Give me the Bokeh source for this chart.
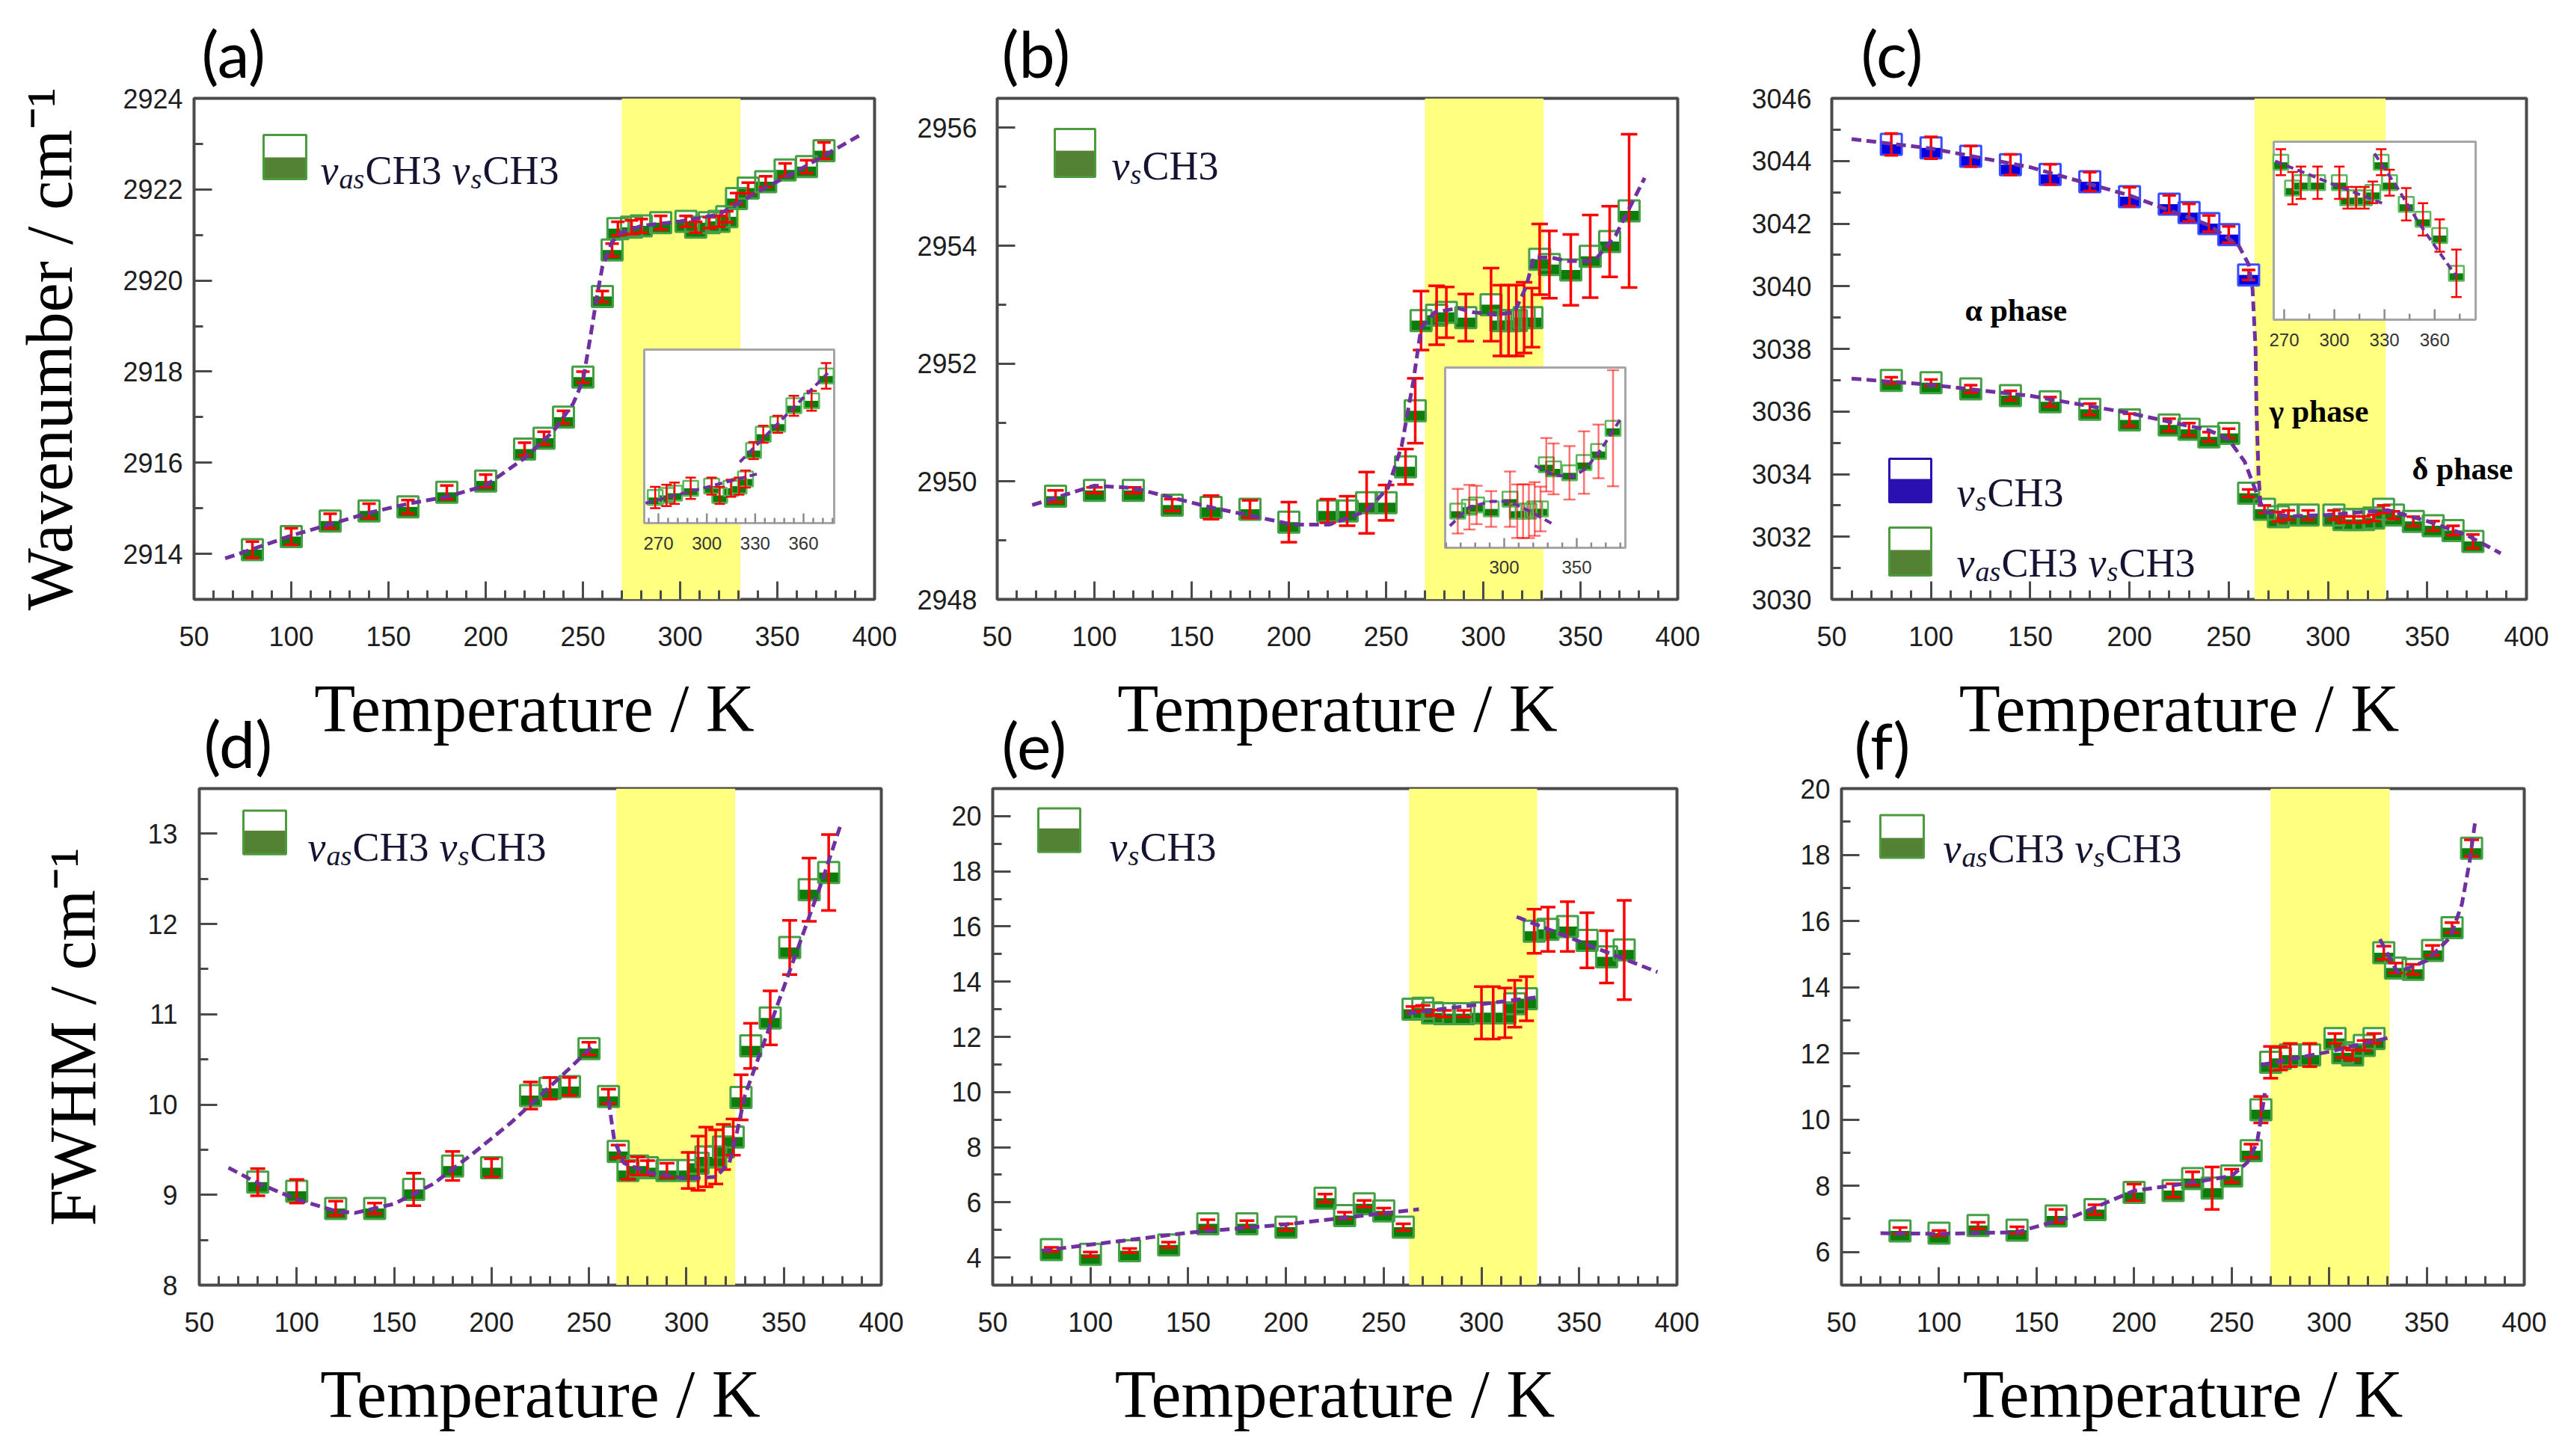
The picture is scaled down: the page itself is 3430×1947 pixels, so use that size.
from bokeh.plotting import figure
from bokeh.layouts import column, row
from bokeh.models import ColumnDataSource, Range1d, FixedTicker, BoxAnnotation
from bokeh.core.properties import value
from bokeh.embed import file_html
from bokeh.resources import INLINE

# ------------------------------------------------------------------ data
# (a) Wavenumber, nu_as CH3 nu_s CH3
Ta = [80, 100, 120, 140, 160, 180, 200, 220, 230, 240, 250, 260, 265, 268, 275, 280, 290, 303, 308, 315, 320, 324, 329, 335, 344, 354, 365, 374]
Va = [2914.09, 2914.38, 2914.72, 2914.94, 2915.03, 2915.35, 2915.6, 2916.3, 2916.54, 2917.0, 2917.88, 2919.65, 2920.67, 2921.14, 2921.17, 2921.2, 2921.27, 2921.3, 2921.17, 2921.27, 2921.3, 2921.4, 2921.8, 2922.03, 2922.17, 2922.43, 2922.5, 2922.85]
Ea = [0.18, 0.18, 0.16, 0.16, 0.15, 0.15, 0.14, 0.14, 0.14, 0.14, 0.12, 0.12, 0.14, 0.15, 0.15, 0.15, 0.15, 0.12, 0.12, 0.12, 0.12, 0.12, 0.12, 0.12, 0.12, 0.14, 0.14, 0.18]
FitA_T = [66, 80, 100, 120, 140, 160, 180, 200, 220, 235, 245, 250, 254, 257, 260, 265, 270, 280, 300, 320, 330, 340, 360, 392]
FitA_V = [2913.9, 2914.1, 2914.4, 2914.65, 2914.9, 2915.1, 2915.25, 2915.5, 2916.1, 2916.7, 2917.3, 2917.8, 2918.8, 2919.6, 2920.3, 2920.85, 2921.05, 2921.2, 2921.3, 2921.45, 2921.7, 2921.95, 2922.4, 2923.18]
InsA1_T = [262, 331]
InsA1_V = [2921.06, 2921.47]
InsA2_T = [320.5, 375]
InsA2_V = [2921.64, 2922.89]

# (b) Wavenumber, nu_s CH3
Tb = [80, 100, 120, 140, 160, 180, 200, 220, 230, 240, 250, 260, 265, 268, 276, 281, 291, 304, 309, 313, 317, 321, 325, 329, 334, 345, 355, 365, 375]
Vb = [2949.75, 2949.85, 2949.85, 2949.6, 2949.56, 2949.53, 2949.31, 2949.5, 2949.5, 2949.64, 2949.64, 2950.25, 2951.2, 2952.73, 2952.82, 2952.87, 2952.78, 2953.0, 2952.73, 2952.73, 2952.73, 2952.78, 2952.78, 2953.77, 2953.68, 2953.59, 2953.82, 2954.07, 2954.59]
Eb = [0.1, 0.05, 0.05, 0.1, 0.2, 0.15, 0.34, 0.2, 0.25, 0.52, 0.3, 0.3, 0.55, 0.5, 0.5, 0.43, 0.4, 0.62, 0.6, 0.6, 0.6, 0.6, 0.5, 0.6, 0.57, 0.6, 0.7, 0.6, 1.3]
FitB_T = [68, 100, 120, 160, 202, 221, 240, 251, 258, 264, 268, 275, 287, 295, 306, 316, 322, 326, 335, 343, 357, 368, 383]
FitB_V = [2949.6, 2949.93, 2949.89, 2949.56, 2949.27, 2949.27, 2949.5, 2949.89, 2950.6, 2951.7, 2952.6, 2952.87, 2952.94, 2952.87, 2952.83, 2952.87, 2953.3, 2953.8, 2953.8, 2953.74, 2953.74, 2954.17, 2955.15]
InsB1_T = [262.6, 275.8, 291.2, 303.6, 317.5, 332.5]
InsB1_V = [2952.4, 2952.82, 2952.95, 2952.95, 2952.73, 2952.46]
InsB2_T = [321, 335, 347.4, 356, 366.5, 381.4]
InsB2_V = [2953.75, 2953.54, 2953.5, 2953.68, 2954.1, 2954.86]

# (c) Wavenumber, nu_s CH3 (blue) and nu_as CH3 nu_s CH3 (green)
Tc_blue = [80, 100, 120, 140, 160, 180, 200, 220, 230, 240, 250, 260]
Vc_blue = [3044.53, 3044.42, 3044.15, 3043.88, 3043.57, 3043.34, 3042.86, 3042.62, 3042.35, 3042.0, 3041.65, 3040.36]
Ec_blue = [0.35, 0.35, 0.33, 0.33, 0.32, 0.3, 0.3, 0.28, 0.28, 0.26, 0.26, 0.16]
Tc_green = [80, 100, 120, 140, 160, 180, 200, 220, 230, 240, 250, 260, 268, 275, 280, 290, 303, 308, 313, 318, 323, 328, 333, 343, 353, 363, 373]
Vc_green = [3036.99, 3036.92, 3036.72, 3036.51, 3036.31, 3036.07, 3035.73, 3035.57, 3035.43, 3035.19, 3035.3, 3033.39, 3032.88, 3032.64, 3032.69, 3032.69, 3032.69, 3032.55, 3032.55, 3032.55, 3032.6, 3032.88, 3032.69, 3032.49, 3032.35, 3032.2, 3031.85]
Ec_green = [0.1, 0.1, 0.12, 0.15, 0.15, 0.18, 0.2, 0.2, 0.2, 0.15, 0.15, 0.12, 0.12, 0.15, 0.15, 0.15, 0.15, 0.1, 0.1, 0.1, 0.1, 0.12, 0.12, 0.15, 0.15, 0.15, 0.22]
FitC_blue_T = [60, 100, 150, 200, 240, 255, 260, 262, 263.5, 264, 265, 266]
FitC_blue_V = [3044.7, 3044.4, 3043.8, 3042.9, 3041.95, 3041.3, 3040.7, 3039.9, 3038.0, 3036.0, 3034.0, 3033.0]
FitC_green_T = [60, 100, 150, 200, 240, 250, 258, 264, 268, 280, 300, 330, 350, 370, 387]
FitC_green_V = [3037.05, 3036.85, 3036.5, 3035.95, 3035.4, 3035.1, 3034.4, 3033.4, 3032.8, 3032.65, 3032.7, 3032.85, 3032.5, 3032.05, 3031.47]
InsC1_T = [264.6, 297, 328.5]
InsC1_V = [3032.89, 3032.69, 3032.5]
InsC2_T = [324, 337.4, 350.8, 373]
InsC2_V = [3032.96, 3032.65, 3032.31, 3031.82]

# (d) FWHM, nu_as CH3 nu_s CH3
Td = [80, 100, 120, 140, 160, 180, 200, 220, 230, 240, 250, 260, 265, 270, 275, 280, 290, 301, 306, 310, 315, 319, 324, 328, 333, 343, 353, 363, 373]
Vd = [9.14, 9.04, 8.85, 8.85, 9.06, 9.32, 9.3, 10.1, 10.18, 10.2, 10.62, 10.09, 9.48, 9.27, 9.32, 9.3, 9.27, 9.27, 9.35, 9.42, 9.42, 9.53, 9.64, 10.08, 10.65, 10.96, 11.74, 12.38, 12.57]
Ed = [0.15, 0.13, 0.08, 0.06, 0.18, 0.16, 0.1, 0.15, 0.12, 0.1, 0.07, 0.08, 0.07, 0.1, 0.1, 0.08, 0.08, 0.2, 0.3, 0.33, 0.3, 0.25, 0.2, 0.25, 0.25, 0.3, 0.3, 0.35, 0.42]
FitD1_T = [65, 80, 100, 120, 130, 150, 170, 190, 210, 225, 240, 252]
FitD1_V = [9.3, 9.13, 8.95, 8.82, 8.8, 8.9, 9.12, 9.45, 9.8, 10.1, 10.4, 10.65]
FitD2_T = [260, 263, 268, 280, 300, 315, 322, 326, 330, 340, 355, 370, 379]
FitD2_V = [10.05, 9.6, 9.35, 9.25, 9.18, 9.2, 9.35, 9.7, 10.1, 10.7, 11.6, 12.5, 13.09]

# (e) FWHM, nu_s CH3
Te = [80, 100, 120, 140, 160, 180, 200, 220, 230, 240, 250, 260, 265, 270, 275, 281, 291, 300, 306, 312, 317, 323, 327, 334, 344, 354, 364, 373]
Ve = [4.29, 4.12, 4.25, 4.46, 5.22, 5.22, 5.1, 6.15, 5.52, 5.95, 5.69, 5.1, 13.0, 13.04, 12.87, 12.84, 12.84, 12.87, 12.87, 12.87, 13.2, 13.38, 15.83, 15.9, 16.0, 15.5, 14.9, 15.15]
Ee = [0.08, 0.08, 0.08, 0.1, 0.15, 0.12, 0.12, 0.15, 0.12, 0.12, 0.1, 0.12, 0.1, 0.1, 0.1, 0.12, 0.12, 0.95, 0.95, 0.9, 0.85, 0.8, 0.8, 0.8, 0.9, 1.0, 0.95, 1.8]
FitE1_T = [75, 150, 200, 268]
FitE1_V = [4.25, 4.9, 5.2, 5.75]
FitE2_T = [262, 330]
FitE2_V = [12.85, 13.45]
FitE3_T = [318, 390]
FitE3_V = [16.35, 14.35]

# (f) FWHM, nu_as CH3 nu_s CH3
Tf = [80, 100, 120, 140, 160, 180, 200, 220, 230, 240, 250, 260, 265, 270, 275, 280, 290, 303, 307, 312, 318, 323, 328, 334, 343, 353, 363, 373]
Vf = [6.64, 6.57, 6.8, 6.66, 7.09, 7.28, 7.8, 7.86, 8.22, 7.93, 8.3, 9.06, 10.3, 11.73, 11.85, 11.95, 11.95, 12.45, 12.02, 11.95, 12.24, 12.45, 15.04, 14.58, 14.54, 15.11, 15.8, 18.2]
Ef = [0.1, 0.08, 0.1, 0.1, 0.2, 0.15, 0.25, 0.2, 0.2, 0.64, 0.2, 0.2, 0.4, 0.48, 0.35, 0.35, 0.35, 0.15, 0.15, 0.15, 0.15, 0.15, 0.2, 0.15, 0.15, 0.15, 0.15, 0.25]
FitF1_T = [70, 100, 140, 170, 200, 230, 250, 258, 263, 265.5, 267]
FitF1_V = [6.57, 6.55, 6.6, 7.1, 7.85, 8.1, 8.3, 8.7, 9.3, 10.2, 10.8]
FitF2_T = [265, 300, 331]
FitF2_V = [11.65, 12.05, 12.48]
FitF3_T = [326, 335, 350, 362, 368, 372, 375]
FitF3_V = [15.45, 14.45, 14.8, 15.5, 16.5, 17.8, 19.07]

# phase bands (K)
BAND_A = [270, 331]
BAND_B = [270, 331]
BAND_C = [263, 329]
BAND_D = [264, 325]
BAND_E = [263, 328.5]
BAND_F = [270, 331]

XTICKS = [50, 100, 150, 200, 250, 300, 350, 400]
XMINOR = [t for t in range(50, 401, 10) if t % 50]

YT_A = [2914, 2916, 2918, 2920, 2922, 2924]
YT_B = [2948, 2950, 2952, 2954, 2956]
YT_C = [3030, 3032, 3034, 3036, 3038, 3040, 3042, 3044, 3046]
YT_D = [8, 9, 10, 11, 12, 13]
YT_E = [4, 6, 8, 10, 12, 14, 16, 18, 20]
YT_F = [6, 8, 10, 12, 14, 16, 18, 20]

LEG_TWO = ["\u03bd", "as", "CH3", "\u03bd", "s", "CH3"]
LEG_ONE = ["\u03bd", "s", "CH3"]

# ------------------------------------------------------------------ style
GREEN_EDGE = "#45a045"
GREEN_FILL = "#0b7d0b"
LEG_GREEN_EDGE = "#4e9a3e"
LEG_GREEN_FILL = "#548235"
BLUE_EDGE = "#3a4cff"
BLUE_FILL = "#0000e0"
LEG_BLUE = "#2a10b0"
RED = "#ff0000"
PURPLE = "#7030a0"
YELLOW = "#ffff80"
FRAME = "#4a4a4a"
TXT = "#141432"

OVERLAP = 100  # second row is pulled up under the first row's transparent bottom border

# figure geometry: page coordinates of each frame (frames in a row share top/bottom)
SA = dict(PX=8, PY=8, W=1215, H=1030, FL=267, FR=1177, FT=139, FB=809, x0=50, x1=400, y0=2913, y1=2924)
SB = dict(PX=1223, PY=8, W=1085, H=1030, FL=1341, FR=2251, FT=139, FB=809, x0=50, x1=400, y0=2948, y1=2956.5)
SC = dict(PX=2308, PY=8, W=1114, H=1030, FL=2457, FR=3386, FT=139, FB=809, x0=50, x1=400, y0=3030, y1=3046)
SD = dict(PX=8, PY=1038 - OVERLAP, W=1210, H=1009, FL=274, FR=1186, FT=1052, FB=1726, x0=50, x1=400, y0=8, y1=13.5)
SE = dict(PX=1218, PY=1038 - OVERLAP, W=1090, H=1009, FL=1335, FR=2250, FT=1052, FB=1726, x0=50, x1=400, y0=3, y1=21)
SF = dict(PX=2308, PY=1038 - OVERLAP, W=1114, H=1009, FL=2470, FR=3383, FT=1052, FB=1726, x0=50, x1=400, y0=5, y1=20)


def px2x(s, px):
    return s["x0"] + (px - s["FL"]) * (s["x1"] - s["x0"]) / (s["FR"] - s["FL"])


def py2y(s, py):
    return s["y1"] - (py - s["FT"]) * (s["y1"] - s["y0"]) / (s["FB"] - s["FT"])


def yscale(s):
    return (s["FB"] - s["FT"]) / (s["y1"] - s["y0"])


def make_fig(s, yticks, letter, letter_offset, letter_standoff, ylabel=None, ylab_standoff=46, ytick_standoff=15):
    step = yticks[1] - yticks[0]
    minor = []
    v = s["y0"]
    while v <= s["y1"] + 1e-9:
        if all(abs(v - t) > 1e-6 for t in yticks):
            minor.append(round(v, 4))
        v += step / 2.0
    p = figure(width=s["W"], height=s["H"],
               x_range=Range1d(s["x0"], s["x1"]), y_range=Range1d(s["y0"], s["y1"]),
               output_backend="svg", toolbar_location=None,
               min_border_left=s["FL"] - s["PX"], min_border_right=s["PX"] + s["W"] - s["FR"],
               min_border_top=s["FT"] - s["PY"], min_border_bottom=s["PY"] + s["H"] - s["FB"])
    p.title.text = letter
    p.title.align = "left"
    p.title.offset = letter_offset
    p.title.standoff = letter_standoff
    p.title.text_font = "Lato"
    p.title.text_font_size = "86px"
    p.title.text_font_style = "normal"
    p.title.text_color = "black"
    p.xgrid.visible = False
    p.ygrid.visible = False
    p.outline_line_color = FRAME
    p.outline_line_width = 4
    p.background_fill_color = "white"
    p.border_fill_color = None
    p.xaxis.ticker = FixedTicker(ticks=XTICKS, minor_ticks=XMINOR)
    p.yaxis.ticker = FixedTicker(ticks=yticks, minor_ticks=minor)
    for ax in (p.xaxis, p.yaxis):
        ax.axis_line_color = None
        ax.major_tick_in = 24
        ax.major_tick_out = 0
        ax.minor_tick_in = 12
        ax.minor_tick_out = 0
        ax.major_tick_line_color = FRAME
        ax.major_tick_line_width = 3
        ax.minor_tick_line_color = FRAME
        ax.minor_tick_line_width = 3
        ax.major_label_text_font = "Liberation Sans"
        ax.major_label_text_font_size = "36px"
        ax.major_label_text_color = "#1e1e1e"
    p.xaxis.major_label_standoff = 36
    p.yaxis.major_label_standoff = ytick_standoff
    p.xaxis.axis_label = "Temperature / K"
    p.xaxis.axis_label_standoff = 31
    p.xaxis.axis_label_text_font_size = "90px"
    p.yaxis.axis_label_text_font_size = "88px"
    for ax in (p.xaxis, p.yaxis):
        ax.axis_label_text_font = "Liberation Serif"
        ax.axis_label_text_font_style = "normal"
        ax.axis_label_text_color = "black"
    if ylabel:
        p.yaxis.axis_label = ylabel
        p.yaxis.axis_label_standoff = ylab_standoff
    return p


def band(p, b):
    p.add_layout(BoxAnnotation(left=b[0], right=b[1], fill_color=YELLOW, fill_alpha=1.0,
                               line_color=None, level="underlay"))


def half_squares(p, xs, ys, size, edge, fill, scale, lw=3, **rn):
    hd = size / 2.0 / scale
    src = ColumnDataSource(dict(x=xs, y=ys, ylo=[y - hd / 2.0 for y in ys]))
    p.scatter("x", "y", source=src, marker="square", size=size, fill_color="white", line_color=None, **rn)
    p.rect("x", "ylo", width=size, height=hd, width_units="screen", height_units="data",
           source=src, fill_color=fill, line_color=None, **rn)
    p.scatter("x", "y", source=src, marker="square", size=size, fill_color=None,
              line_color=edge, line_width=lw, **rn)


def errbars(p, xs, ys, es, cap=20, alpha=1.0, lw=3.5, **rn):
    up = [y + e for y, e in zip(ys, es)]
    lo = [y - e for y, e in zip(ys, es)]
    p.segment(x0=xs, y0=lo, x1=xs, y1=up, line_color=RED, line_width=lw, line_alpha=alpha, **rn)
    p.scatter(x=list(xs) + list(xs), y=up + lo, marker="dash", size=cap, line_color=RED,
              line_width=lw, line_alpha=alpha, fill_color=None, **rn)


def fit(p, xs, ys, lw=5, dash="13 7", **rn):
    p.line(xs, ys, line_color=PURPLE, line_width=lw, line_dash=dash, **rn)


def legend_symbol(p, s, x0, x1, y0, ymid, y1, edge, fill):
    L, R = px2x(s, x0), px2x(s, x1)
    T, M, B = py2y(s, y0), py2y(s, ymid), py2y(s, y1)
    p.quad(left=[L], right=[R], top=[T], bottom=[B], fill_color="white", line_color=None)
    p.quad(left=[L], right=[R], top=[M], bottom=[B], fill_color=fill, line_color=None)
    p.quad(left=[L], right=[R], top=[T], bottom=[B], fill_color=None, line_color=edge, line_width=3)


OFF_TWO = [0, 25, 60, 176, 201, 217]
OFF_ONE = [0, 25, 41]


def legend_text(p, s, x_start, baseline, pieces, offsets):
    for txt, off in zip(pieces, offsets):
        sub = txt in ("as", "s")
        ital = txt in ("as", "s", "\u03bd")
        p.text(x=[px2x(s, x_start + off)], y=[py2y(s, baseline + (11 if sub else 0))], text=[txt],
               text_font=value("Liberation Serif"), text_font_size=value("38px" if sub else "54px"),
               text_font_style=value("italic" if ital else "normal"), text_color=TXT,
               text_align=value("left"), text_baseline=value("alphabetic"))


def inset(p, s, name, box, drange, major, minor, labels, major_len=13, minor_len=7, lab_off=27):
    X0, X1, Y0, Y1 = box
    a0, a1, b0, b1 = drange
    kx = (a1 - a0) / (X1 - X0)
    ky = (b1 - b0) / (Y1 - Y0)
    p.extra_x_ranges[name + "x"] = Range1d(a0 - (X0 - s["FL"]) * kx, a1 + (s["FR"] - X1) * kx)
    p.extra_y_ranges[name + "y"] = Range1d(b0 - (s["FB"] - Y1) * ky, b1 + (Y0 - s["FT"]) * ky)
    rn = dict(x_range_name=name + "x", y_range_name=name + "y")
    p.quad(left=[a0], right=[a1], bottom=[b0], top=[b1], fill_color="white", line_color="#a6a6a6",
           line_width=3, **rn)
    p.segment(x0=major, y0=[b0] * len(major), x1=major, y1=[b0 + major_len * ky] * len(major),
              line_color="#8c8c8c", line_width=2.5, **rn)
    p.segment(x0=minor, y0=[b0] * len(minor), x1=minor, y1=[b0 + minor_len * ky] * len(minor),
              line_color="#8c8c8c", line_width=2.5, **rn)
    p.text(x=labels, y=[b0] * len(labels), text=[str(t) for t in labels], y_offset=lab_off,
           text_font=value("Liberation Sans"), text_font_size=value("24px"), text_color="#333333",
           text_align=value("center"), text_baseline=value("middle"), **rn)
    return rn, 1.0 / ky


def series(p, s, T, V, E, edge=GREEN_EDGE, fill=GREEN_FILL, cap=20):
    half_squares(p, T, V, 28, edge, fill, yscale(s))
    errbars(p, T, V, E, cap=cap)


def inset_series(p, rn, sc, T, V, E, tmin, alpha=1.0, cap=14):
    sel = [i for i, t in enumerate(T) if t >= tmin]
    xs = [T[i] for i in sel]
    ys = [V[i] for i in sel]
    es = [E[i] for i in sel]
    half_squares(p, xs, ys, 20, "#5cb85c", GREEN_FILL, sc, lw=2.5, **rn)
    errbars(p, xs, ys, es, cap=cap, lw=2.5, alpha=alpha, **rn)


# ------------------------------------------------------------------ (a)
pa = make_fig(SA, YT_A, "(a)", 10, 19, ylabel="Wavenumber / cm\u207b\u00b9", ylab_standoff=46, ytick_standoff=15)
band(pa, BAND_A)
series(pa, SA, Ta, Va, Ea, cap=18)
fit(pa, FitA_T, FitA_V)
rn, sc = inset(pa, SA, "ia", (869, 1123, 475, 707), (261.2, 379, 2920.78, 2923.22),
               [270, 300, 330, 360], [t for t in range(264, 379, 6) if t not in (270, 300, 330, 360)],
               [270, 300, 330, 360])
inset_series(pa, rn, sc, Ta, Va, Ea, 268)
fit(pa, InsA1_T, InsA1_V, lw=4, dash="10 6", **rn)
fit(pa, InsA2_T, InsA2_V, lw=4, dash="10 6", **rn)
legend_symbol(pa, SA, 360, 417, 188, 218, 247, LEG_GREEN_EDGE, LEG_GREEN_FILL)
legend_text(pa, SA, 436, 235, LEG_TWO, OFF_TWO)

# ------------------------------------------------------------------ (b)
pb = make_fig(SB, YT_B, "(b)", 6, 19, ytick_standoff=27)
band(pb, BAND_B)
series(pb, SB, Tb, Vb, Eb, cap=22)
fit(pb, FitB_T, FitB_V)
rn, sc = inset(pb, SB, "ib", (1940, 2181, 499, 740), (259.3, 383.5, 2951.91, 2955.95),
               [300, 350], [t for t in range(260, 384, 10) if t not in (300, 350)],
               [300, 350], lab_off=26)
inset_series(pb, rn, sc, Tb, Vb, Eb, 268, alpha=0.55, cap=16)
fit(pb, InsB1_T, InsB1_V, lw=4, dash="10 6", **rn)
fit(pb, InsB2_T, InsB2_V, lw=4, dash="10 6", **rn)
legend_symbol(pb, SB, 1418, 1472, 180, 209, 244, LEG_GREEN_EDGE, LEG_GREEN_FILL)
legend_text(pb, SB, 1494, 229, LEG_ONE, OFF_ONE)

# ------------------------------------------------------------------ (c)
pc = make_fig(SC, YT_C, "(c)", 39, 19, ytick_standoff=27)
band(pc, BAND_C)
series(pc, SC, Tc_blue, Vc_blue, Ec_blue, edge=BLUE_EDGE, fill=BLUE_FILL, cap=18)
series(pc, SC, Tc_green, Vc_green, Ec_green, cap=18)
fit(pc, FitC_blue_T, FitC_blue_V)
fit(pc, FitC_green_T, FitC_green_V)
rn, sc = inset(pc, SC, "ic", (3048, 3318, 197, 435), (263.75, 384.5, 3031.42, 3033.07),
               [270, 300, 330, 360], [285, 315, 345, 375], [270, 300, 330, 360],
               major_len=14, minor_len=8, lab_off=27)
inset_series(pc, rn, sc, Tc_green, Vc_green, Ec_green, 268)
fit(pc, InsC1_T, InsC1_V, lw=4, dash="10 6", **rn)
fit(pc, InsC2_T, InsC2_V, lw=4, dash="10 6", **rn)
for txt, x_px, y_px in (("\u03b1 phase", 2635, 422), ("\u03b3 phase", 3042, 557), ("\u03b4 phase", 3233, 634)):
    pc.text(x=[px2x(SC, x_px)], y=[py2y(SC, y_px)], text=[txt], text_font=value("Liberation Serif"),
            text_font_size=value("42px"), text_font_style=value("bold"), text_color="black",
            text_align=value("left"), text_baseline=value("middle"))
legend_symbol(pc, SC, 2534, 2590, 621, 648, 679, LEG_BLUE, LEG_BLUE)
legend_text(pc, SC, 2624, 666, LEG_ONE, OFF_ONE)
legend_symbol(pc, SC, 2534, 2590, 713, 743, 777, LEG_GREEN_EDGE, LEG_GREEN_FILL)
legend_text(pc, SC, 2624, 760, LEG_TWO, OFF_TWO)

# ------------------------------------------------------------------ (d)
pd_ = make_fig(SD, YT_D, "(d)", 6, 19, ylabel="FWHM / cm\u207b\u00b9", ylab_standoff=48, ytick_standoff=29)
band(pd_, BAND_D)
series(pd_, SD, Td, Vd, Ed)
fit(pd_, FitD1_T, FitD1_V)
fit(pd_, FitD2_T, FitD2_V)
legend_symbol(pd_, SD, 333, 390, 1082, 1109, 1141, LEG_GREEN_EDGE, LEG_GREEN_FILL)
legend_text(pd_, SD, 419, 1132, LEG_TWO, OFF_TWO)

# ------------------------------------------------------------------ (e)
pe = make_fig(SE, YT_E, "(e)", 12, 16, ytick_standoff=15)
band(pe, BAND_E)
series(pe, SE, Te, Ve, Ee)
fit(pe, FitE1_T, FitE1_V)
fit(pe, FitE2_T, FitE2_V)
fit(pe, FitE3_T, FitE3_V)
legend_symbol(pe, SE, 1396, 1452, 1079, 1106, 1138, LEG_GREEN_EDGE, LEG_GREEN_FILL)
legend_text(pe, SE, 1491, 1132, LEG_ONE, OFF_ONE)

# ------------------------------------------------------------------ (f)
pf = make_fig(SF, YT_F, "(f)", 17, 16, ytick_standoff=15)
band(pf, BAND_F)
series(pf, SF, Tf, Vf, Ef)
fit(pf, FitF1_T, FitF1_V)
fit(pf, FitF2_T, FitF2_V)
fit(pf, FitF3_T, FitF3_V)
legend_symbol(pf, SF, 2522, 2580, 1088, 1119, 1146, LEG_GREEN_EDGE, LEG_GREEN_FILL)
legend_text(pf, SF, 2606, 1134, LEG_TWO, OFF_TWO)

row1 = row(pa, pb, pc)
row2 = row(pd_, pe, pf, margin=(-OVERLAP, 0, 0, 0))
layout = column(row1, row2)
open("out.html", "w").write(file_html(layout, INLINE))
